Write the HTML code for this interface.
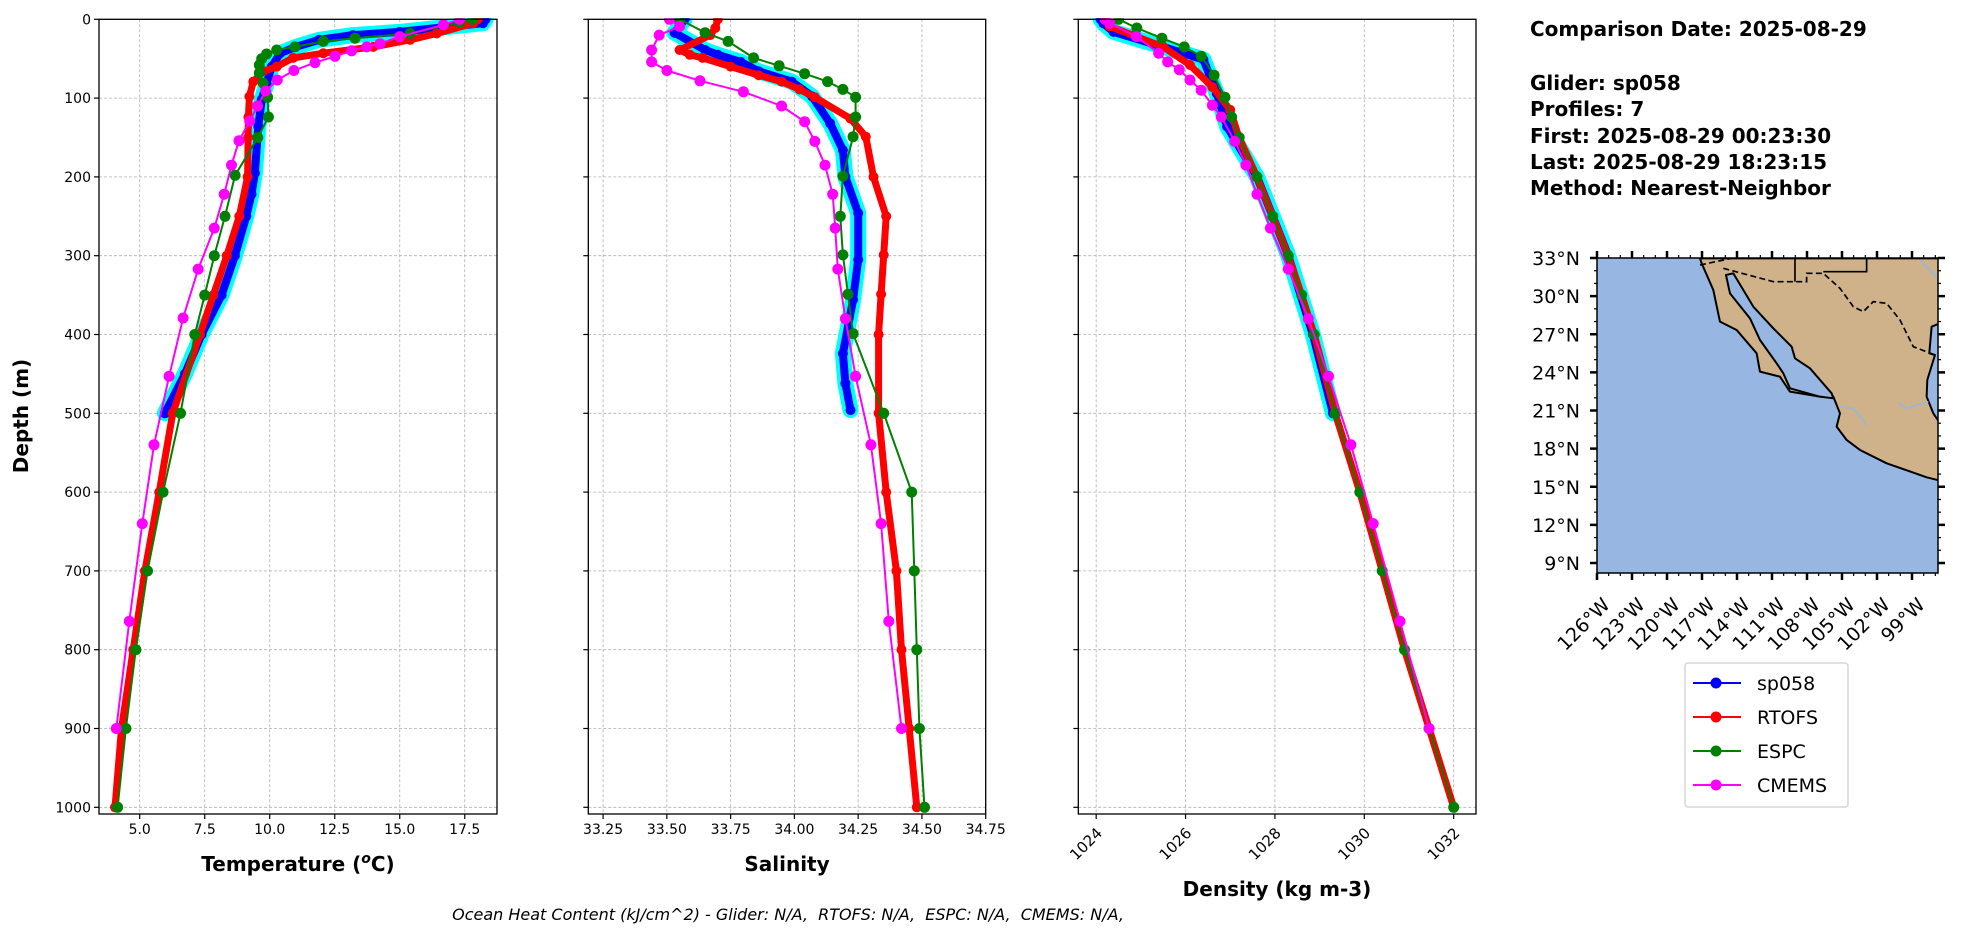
<!DOCTYPE html>
<html><head><meta charset="utf-8">
<style>
html,body{margin:0;padding:0;background:#fff;}
svg{display:block;font-family:"DejaVu Sans","Liberation Sans",sans-serif;}
</style></head>
<body>
<svg id="fig" width="1978" height="934" viewBox="0 0 1978 934" xmlns="http://www.w3.org/2000/svg">
<g id="panels"></g>
<text x="28" y="416" font-size="20" font-weight="bold" text-anchor="middle" transform="rotate(-90 28 416)">Depth (m)</text>
<text x="298" y="871" font-size="20" font-weight="bold" text-anchor="middle">Temperature (<tspan font-style="italic" font-size="14" dy="-8">o</tspan><tspan dy="8">C)</tspan></text>
<text x="787" y="871" font-size="20" font-weight="bold" text-anchor="middle">Salinity</text>
<text x="1277" y="896" font-size="20" font-weight="bold" text-anchor="middle">Density (kg m-3)</text>
<text x="788" y="920" font-size="16" font-style="italic" text-anchor="middle" style="white-space:pre">Ocean Heat Content (kJ/cm^2) - Glider: N/A,  RTOFS: N/A,  ESPC: N/A,  CMEMS: N/A,</text>
<g font-size="20" font-weight="bold">
<text x="1530" y="36">Comparison Date: 2025-08-29</text>
<text x="1530" y="90">Glider: sp058</text>
<text x="1530" y="116">Profiles: 7</text>
<text x="1530" y="143">First: 2025-08-29 00:23:30</text>
<text x="1530" y="169">Last: 2025-08-29 18:23:15</text>
<text x="1530" y="195">Method: Nearest-Neighbor</text>
</g>
<g id="map">
<clipPath id="mapclip"><rect x="1597" y="258" width="341" height="315"/></clipPath>
<rect x="1597" y="258" width="341" height="315" fill="#97b6e1"/>
<g clip-path="url(#mapclip)">
<g transform="translate(1520,240) scale(0.3333)">
<path fill="#cfb18a" stroke="#000" stroke-width="6" stroke-linejoin="round" d="M540,55 L1260,55 L1260,250 L1235,260 L1228,340 L1245,345 L1222,420 L1220,470 L1240,520 L1260,550 L1260,722 L1220,712 L1100,670 L1020,630 L980,600 L950,560 L960,520 L940,470 L900,470 L810,455 L780,410 L720,395 L710,340 L650,270 L600,245 L580,150 L545,70 Z"/>
<path fill="#97b6e1" stroke="#000" stroke-width="6" stroke-linejoin="round" d="M618,105 L640,100 L700,200 L760,265 L815,320 L825,355 L870,385 L935,460 L940,475 L900,470 L810,445 L790,400 L770,370 L720,300 L690,235 L630,160 Z"/>
<path fill="none" stroke="#000" stroke-width="5" stroke-dasharray="18,10" d="M540,75 L635,55 M610,85 L760,125 L860,125 L860,100 L910,100 L960,145 L1000,200 L1030,215 L1060,185 L1100,190 L1140,240 L1180,320 L1245,345"/>
<path fill="none" stroke="#000" stroke-width="5" d="M825,55 L825,125 M910,95 L1040,95 L1040,55"/>
<path fill="none" stroke="#97b6e1" stroke-width="5" d="M960,500 L1000,505 L1040,555 M1135,488 L1160,505 L1225,485 M1200,60 L1240,100 L1255,120"/>
</g>
</g>
<rect x="1597" y="258" width="341" height="315" fill="none" stroke="#000" stroke-width="1.5"/>
<g id="mapticks"></g>
</g>
<g>
<rect x="1685" y="663" width="163" height="144" rx="3" fill="#fff" stroke="#d6d6d6" stroke-width="1.5"/>
<g><line x1="1693" y1="683" x2="1741" y2="683" stroke="#0000ff" stroke-width="2"/><circle cx="1716" cy="683" r="5.5" fill="#0000ff"/><text x="1757" y="690" font-size="19">sp058</text></g>
<g><line x1="1693" y1="717" x2="1741" y2="717" stroke="#ff0000" stroke-width="2"/><circle cx="1716" cy="717" r="5.5" fill="#ff0000"/><text x="1757" y="724" font-size="19">RTOFS</text></g>
<g><line x1="1693" y1="751" x2="1741" y2="751" stroke="#008000" stroke-width="2"/><circle cx="1716" cy="751" r="5.5" fill="#008000"/><text x="1757" y="758" font-size="19">ESPC</text></g>
<g><line x1="1693" y1="785" x2="1741" y2="785" stroke="#ff00ff" stroke-width="2"/><circle cx="1716" cy="785" r="5.5" fill="#ff00ff"/><text x="1757" y="792" font-size="19">CMEMS</text></g>
</g>
</svg>
<script>
// ---- data ----
const depthTicks = [0,100,200,300,400,500,600,700,800,900,1000];
const tempTicks = [5.0,7.5,10.0,12.5,15.0,17.5];
const salTicks = [33.25,33.50,33.75,34.00,34.25,34.50,34.75];
const densTicks = [1024,1026,1028,1030,1032];

const gliderDepthT = [0,5,16,20,26,35,43,60,81,102,136,195,222,250,300,350,400,450,500];
const gliderTemp = [18.3,18.2,15.0,13.2,11.9,11.0,10.4,10.08,9.88,9.69,9.56,9.43,9.3,9.1,8.66,8.15,7.38,6.74,5.97];
const rtofsDepthT = [0,5,18,26,35,43,49,60,66,79,98,124,150,200,250,300,350,400,500,600,700,800,900,1000];
const rtofsTemp = [18.0,17.83,16.42,15.4,13.98,12.06,10.9,10.27,9.75,9.37,9.22,9.18,9.17,9.15,8.83,8.35,7.83,7.32,6.27,5.75,5.2,4.75,4.3,4.05];
const espcDepthT = [0,4,18,24,28,35,39,44,50,58,68,81,99,124,150,198,250,300,350,400,500,600,700,800,900,1000];
const espcTemp = [17.8,17.3,15.4,13.28,12.06,10.97,10.27,9.88,9.69,9.6,9.6,9.75,9.92,9.95,9.54,8.67,8.28,7.87,7.5,7.12,6.57,5.9,5.3,4.85,4.47,4.15];
const cmemsDepthT = [0,7,22,31,35,40,47,55,65,77,91,110,129,154,185,222,265,317,379,453,540,640,764,900];
const cmemsTemp = [17.3,16.68,15.0,14.24,13.73,13.15,12.51,11.74,10.93,10.29,9.84,9.53,9.23,8.82,8.53,8.25,7.87,7.25,6.67,6.13,5.55,5.1,4.6,4.1];

const gliderDepthS = [0,17,39,45,54,66,79,98,132,166,200,246,305,356,424,462,496];
const gliderSal = [33.57,33.53,33.65,33.70,33.79,33.86,33.99,34.07,34.14,34.19,34.20,34.25,34.25,34.23,34.19,34.20,34.22];
const rtofsDepthS = [0,11,20,39,45,49,60,71,79,89,99,126,149,200,250,299,349,400,500,600,700,800,900,1000];
const rtofsSal = [33.70,33.69,33.67,33.55,33.59,33.64,33.75,33.86,33.95,34.02,34.08,34.22,34.28,34.31,34.36,34.35,34.34,34.33,34.33,34.36,34.40,34.42,34.45,34.48];
const espcDepthS = [0,17,28,49,59,69,79,89,99,124,149,199,250,299,349,399,500,600,700,800,900,1000];
const espcSal = [33.55,33.65,33.74,33.84,33.94,34.04,34.13,34.19,34.24,34.24,34.23,34.19,34.18,34.19,34.21,34.23,34.35,34.46,34.47,34.48,34.49,34.51];
const cmemsDepthS = [0,9,20,39,54,65,78,92,110,130,155,185,222,265,317,380,453,540,640,764,900];
const cmemsSal = [33.51,33.55,33.47,33.44,33.44,33.50,33.63,33.80,33.95,34.04,34.08,34.12,34.15,34.16,34.17,34.20,34.24,34.30,34.34,34.37,34.42];

const gliderDepthD = [0,5,16,35,51,94,136,200,300,400,500];
const gliderDens = [1024.1,1024.16,1024.39,1025.5,1026.4,1026.7,1026.93,1027.6,1028.3,1028.85,1029.3];
const rtofsDepthD = [0,9,35,58,86,115,149,200,250,300,350,400,500,600,700,800,900,1000];
const rtofsDens = [1024.2,1024.3,1025.5,1026.1,1026.6,1027.0,1027.19,1027.6,1027.95,1028.3,1028.6,1028.88,1029.35,1029.9,1030.4,1030.9,1031.45,1032.0];
const espcDepthD = [0,11,24,35,47,71,99,124,150,200,250,300,350,400,500,600,700,800,900,1000];
const espcDens = [1024.5,1024.91,1025.47,1025.97,1026.35,1026.64,1026.88,1027.03,1027.2,1027.6,1027.95,1028.3,1028.6,1028.88,1029.35,1029.9,1030.4,1030.9,1031.45,1032.0];
const cmemsDepthD = [0,5,22,43,54,64,77,90,109,124,155,185,222,265,317,380,453,540,640,764,900];
const cmemsDens = [1024.2,1024.3,1024.9,1025.4,1025.6,1025.86,1026.1,1026.35,1026.6,1026.8,1027.1,1027.35,1027.6,1027.9,1028.3,1028.75,1029.2,1029.7,1030.2,1030.8,1031.45];

const latTicks = [33,30,27,24,21,18,15,12,9];
const lonTicks = [126,123,120,117,114,111,108,105,102,99];

// ---- drawing ----
const NS = 'http://www.w3.org/2000/svg';
function mk(tag, attrs, parent){const e=document.createElementNS(NS,tag);for(const k in attrs)e.setAttribute(k,attrs[k]);parent.appendChild(e);return e;}
const top0 = 19.3, bot = 814, dpx = 0.788;
const yD = d => top0 + d*dpx;
const panels = document.getElementById('panels');

function panel(name, x0, x1, vmin, vmax, ticks, fmt, showY, rotLabels, series){
  const g = mk('g', {}, panels);
  
  
  const xV = v => x0 + (v - vmin)/(vmax - vmin)*(x1 - x0);
  const clipId = 'clip-' + name;
  const cp = mk('clipPath', {id: clipId}, g);
  mk('rect', {x: x0, y: top0-1, width: x1-x0, height: bot-top0+1}, cp);
  const grid = mk('g', {stroke:'#b0b0b0','stroke-width':0.8,'stroke-dasharray':'3,2'}, g);
  
  
  ticks.forEach(t => { const x = xV(t); mk('line',{x1:x,x2:x,y1:top0,y2:bot},grid); });
  depthTicks.forEach(d => { const y = yD(d); mk('line',{x1:x0,x2:x1,y1:y,y2:y},grid); });
  const plot = mk('g', {'clip-path':'url(#'+clipId+')'}, g);
  series.forEach(s => {
    const sg = mk('g', {}, plot);
    
    
    const pts = s.d.map((d,i) => xV(s.v[i]).toFixed(1)+','+yD(d).toFixed(1)).join(' ');
    if (s.halo) {
      const h = mk('polyline', {points: pts, fill:'none', stroke:'#00ffff','stroke-width':s.halo,'stroke-linejoin':'round','stroke-linecap':'round'}, sg);
      
      
    }
    mk('polyline', {points: pts, fill:'none', stroke:s.c,'stroke-width':s.w,'stroke-linejoin':'round','stroke-linecap':'round'}, sg);
    s.d.forEach((d,i) => {
      const c = mk('circle', {cx: xV(s.v[i]).toFixed(1), cy: yD(d).toFixed(1), r: s.r, fill: s.c}, sg);
      
      
    });
  });
  mk('rect', {x:x0, y:top0, width:x1-x0, height:bot-top0, fill:'none', stroke:'#000','stroke-width':1.3}, g);
  ticks.forEach(t => {
    const x = xV(t);
    mk('line',{x1:x,x2:x,y1:bot,y2:bot+5,stroke:'#000','stroke-width':1.2},g);
    let tx;
    if (rotLabels) {
      tx = mk('text',{x:x+7,y:bot+20,'font-size':15,'text-anchor':'end',transform:'rotate(-45 '+(x+7)+' '+(bot+20)+')'},g);
    } else {
      tx = mk('text',{x:x,y:bot+20,'font-size':14,'text-anchor':'middle'},g);
    }
    tx.textContent = fmt(t);
    
    
  });
  depthTicks.forEach(d => {
    const y = yD(d);
    mk('line',{x1:x0-5,x2:x0,y1:y,y2:y,stroke:'#000','stroke-width':1.2},g);
    if (showY) {
      const tx = mk('text',{x:x0-8,y:y+5,'font-size':14,'text-anchor':'end'},g);
      tx.textContent = d;
      
      
    }
  });
}

function seriesSet(gD,gV,rD,rV,eD,eV,cD,cV){
  return [
    {name:'sp058', d:gD, v:gV, c:'#0000ff', w:8, r:5, halo:16},
    {name:'rtofs', d:rD, v:rV, c:'#ff0000', w:7, r:5},
    {name:'espc', d:eD, v:eV, c:'#008000', w:2, r:5.5},
    {name:'cmems', d:cD, v:cV, c:'#ff00ff', w:2, r:5.5}
  ];
}
panel('temperature-panel', 99, 497, 3.435, 18.74, tempTicks, t=>t.toFixed(1), true, false,
  seriesSet(gliderDepthT,gliderTemp,rtofsDepthT,rtofsTemp,espcDepthT,espcTemp,cmemsDepthT,cmemsTemp));
panel('salinity-panel', 588.3, 985.7, 33.192, 34.75, salTicks, t=>t.toFixed(2), false, false,
  seriesSet(gliderDepthS,gliderSal,rtofsDepthS,rtofsSal,espcDepthS,espcSal,cmemsDepthS,cmemsSal));
panel('density-panel', 1078.3, 1476, 1023.6, 1032.5, densTicks, t=>String(t), false, true,
  seriesSet(gliderDepthD,gliderDens,rtofsDepthD,rtofsDens,espcDepthD,espcDens,cmemsDepthD,cmemsDens));

// map ticks
const mt = document.getElementById('mapticks');
const mx0=1597,mx1=1938,my0=258,my1=573;
const lonX = lw => mx0 + (126 - lw)*35/3;
const latY = la => 258 + (33 - la)*(563-258)/24;
for (let lw=126; lw>=97; lw--) {
  const x = lonX(lw); if (x>mx1+0.5) continue;
  const major = (126-lw)%3===0;
  const L = major?7:3, sw = major?2.5:1.2;
  mk('line',{x1:x,x2:x,y1:my0,y2:my0-L,stroke:'#000','stroke-width':sw},mt);
  mk('line',{x1:x,x2:x,y1:my1,y2:my1+L,stroke:'#000','stroke-width':sw},mt);
}
for (let la=33; la>=8; la--) {
  const y = latY(la); if (y>my1+0.5) continue;
  const major = (33-la)%3===0;
  const L = major?7:3, sw = major?2.5:1.2;
  mk('line',{x1:mx0,x2:mx0-L,y1:y,y2:y,stroke:'#000','stroke-width':sw},mt);
  mk('line',{x1:mx1,x2:mx1+L,y1:y,y2:y,stroke:'#000','stroke-width':sw},mt);
}
latTicks.forEach(la => {
  const t = mk('text',{x:1580,y:latY(la)+7,'font-size':19,'text-anchor':'end'},mt);
  t.textContent = la+'°N';
  
  
});
lonTicks.forEach(lw => {
  const x = lonX(lw)+14, y = 606;
  const t = mk('text',{x:x,y:y,'font-size':19,'text-anchor':'end',transform:'rotate(-45 '+x+' '+y+')'},mt);
  t.textContent = lw+'°W';
  
  
});
</script>
</body></html>
